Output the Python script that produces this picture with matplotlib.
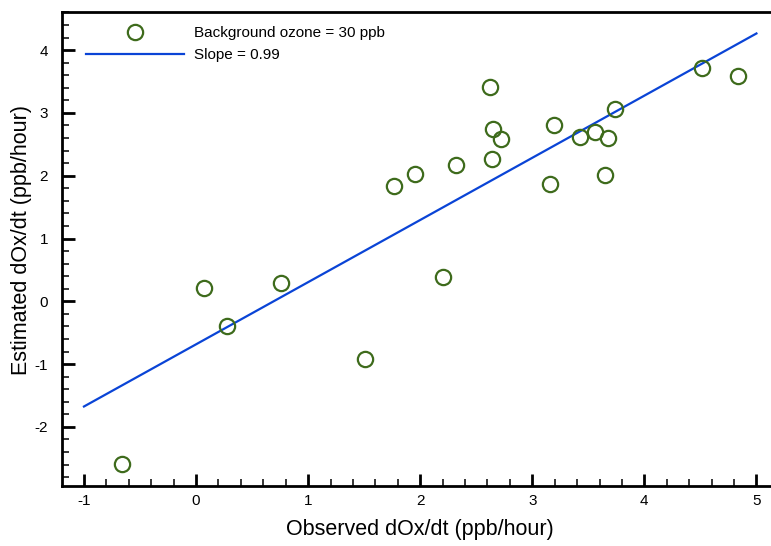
import matplotlib
matplotlib.use("Agg")
import matplotlib.pyplot as plt
import numpy as np
from matplotlib.ticker import MultipleLocator

plt.rcParams['font.family'] = ['Liberation Sans', 'DejaVu Sans']
plt.rcParams['axes.unicode_minus'] = False

obs = [-0.66, 0.07, 0.28, 0.76, 1.51, 1.77, 1.95, 2.20, 2.32, 2.62, 2.64, 2.65, 2.72,
       3.16, 3.19, 3.43, 3.56, 3.65, 3.68, 3.74, 4.51, 4.84]
est = [-2.59, 0.21, -0.39, 0.29, -0.92, 1.84, 2.02, 0.39, 2.17, 3.41, 2.26, 2.74, 2.59,
       1.87, 2.81, 2.62, 2.69, 2.01, 2.60, 3.06, 3.71, 3.59]
fit_x = [-1.0, 5.0]
slope = 0.99
intercept = -0.685
fit_y = [slope * v + intercept for v in fit_x]

fig = plt.figure(figsize=(7.71, 5.46), dpi=100)
ax = fig.add_axes([62/771, 1 - 486/546, 1 - 62/771, (486 - 12)/546])

ax.plot(obs, est, linestyle='none', marker='o', markersize=11, markerfacecolor='none',
        markeredgecolor='#3e6b1c', markeredgewidth=1.6, label='Background ozone = 30 ppb', zorder=3)
ax.plot(fit_x, fit_y, color='#0a44d6', linewidth=1.6, label='Slope = 0.99', zorder=2)

ax.set_xlim(-1.196, 5.13)
ax.set_ylim(-2.941, 4.607)
ax.xaxis.set_major_locator(MultipleLocator(1))
ax.xaxis.set_minor_locator(MultipleLocator(0.2))
ax.yaxis.set_major_locator(MultipleLocator(1))
ax.yaxis.set_minor_locator(MultipleLocator(0.2))
ax.tick_params(which='major', direction='in', length=9, width=2, labelsize=11)
ax.tick_params(axis='y', which='major', pad=10)
ax.tick_params(axis='x', which='major', pad=6)
ax.tick_params(which='minor', direction='in', length=5, width=1.1)
ax.tick_params(axis='x', top=False)
ax.tick_params(axis='y', right=False)
for s in ['left', 'bottom', 'top']:
    ax.spines[s].set_linewidth(2)
ax.spines['right'].set_visible(False)

ax.set_xlabel('Observed dOx/dt (ppb/hour)', fontsize=15.5)
ax.set_ylabel('Estimated dOx/dt (ppb/hour)', fontsize=15.5)
ax.xaxis.label.set_va('center')
ax.yaxis.label.set_va('center')
ax.xaxis.set_label_coords((420 - 62) / 709, (486 - 529) / 474)
ax.yaxis.set_label_coords((22 - 62) / 709, (486 - 240) / 474)

ax.legend(loc='upper left', bbox_to_anchor=((86 - 62)/709, (486 - 26)/474), frameon=False,
          borderpad=0, borderaxespad=0, handlelength=6.4, handletextpad=0.7,
          labelspacing=0.55, fontsize=11)

fig.savefig('out.png', dpi=100)
